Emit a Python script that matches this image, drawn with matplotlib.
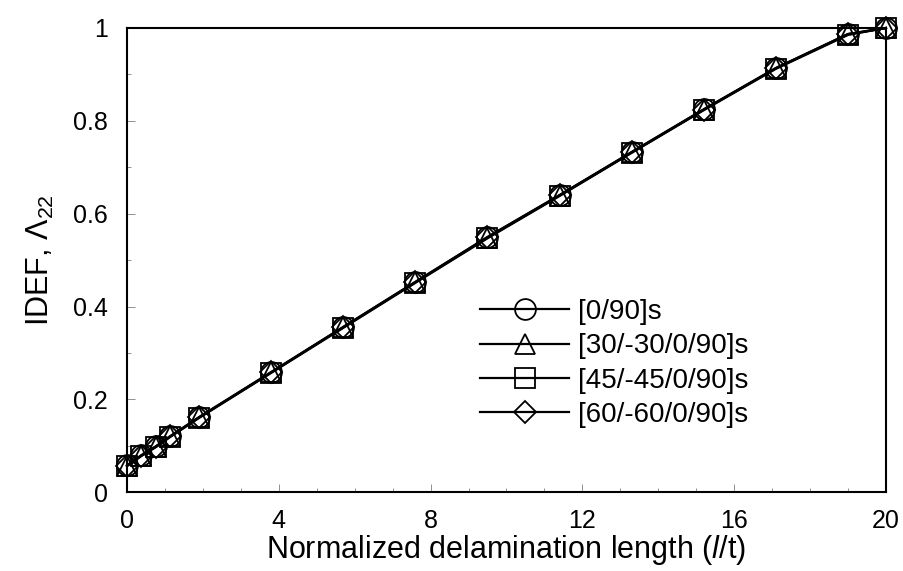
import matplotlib.pyplot as plt
from matplotlib.ticker import MultipleLocator

plt.rcParams['font.family'] = ['Liberation Sans', 'DejaVu Sans']
plt.rcParams['mathtext.fontset'] = 'custom'
plt.rcParams['mathtext.rm'] = 'Liberation Sans'
plt.rcParams['mathtext.it'] = 'Liberation Sans:italic'

# normalized delamination length l/t
x = [0, 0.38, 0.76, 1.14, 1.9, 3.8, 5.7, 7.6, 9.5, 11.4, 13.3, 15.2, 17.1, 19, 20]

idef_0_90 = [0.058, 0.080, 0.099, 0.121, 0.162, 0.259, 0.356, 0.453, 0.550, 0.640, 0.733, 0.825, 0.914, 0.987, 1.0]
idef_30 = [0.057, 0.079, 0.098, 0.120, 0.161, 0.258, 0.355, 0.452, 0.548, 0.639, 0.732, 0.824, 0.913, 0.986, 1.0]
idef_45 = [0.056, 0.078, 0.097, 0.119, 0.160, 0.257, 0.354, 0.451, 0.547, 0.638, 0.731, 0.823, 0.912, 0.985, 1.0]
idef_60 = [0.057, 0.079, 0.098, 0.120, 0.161, 0.258, 0.356, 0.453, 0.549, 0.640, 0.732, 0.824, 0.913, 0.987, 1.0]

labels = ['[0/90]s', '[30/-30/0/90]s', '[45/-45/0/90]s', '[60/-60/0/90]s']
markers = ['o', '^', 's', 'D']
series = [idef_0_90, idef_30, idef_45, idef_60]

xticks = [0, 4, 8, 12, 16, 20]
yticks = [0, 0.2, 0.4, 0.6, 0.8, 1]
ytick_labels = ['0', '0.2', '0.4', '0.6', '0.8', '1']

fig = plt.figure(figsize=(9.04, 5.71), dpi=100)
ax = fig.add_axes([0.1405, 0.138, 0.8395, 0.813])

for y, lab, m in zip(series, labels, markers):
    ms = 11 if m == 'D' else 15
    ax.plot(x, y, color='black', lw=1.6, marker=m, markersize=ms,
            markerfacecolor='none', markeredgecolor='black',
            markeredgewidth=1.3, label=lab, clip_on=False)

ax.set_xlim(0, 20)
ax.set_ylim(0, 1)
ax.set_xticks(xticks)
ax.set_xticklabels([str(v) for v in xticks])
ax.xaxis.set_minor_locator(MultipleLocator(1))
ax.set_yticks(yticks)
ax.set_yticklabels(ytick_labels)
ax.yaxis.set_minor_locator(MultipleLocator(0.1))
ax.tick_params(which='both', direction='in', labelsize=18, width=0.6, color='0.5')
ax.tick_params(which='major', length=6)
ax.tick_params(axis='x', which='major', pad=12)
ax.tick_params(axis='y', which='major', pad=14)
ax.tick_params(which='minor', length=3)
for s in ax.spines.values():
    s.set_linewidth(1.5)

ax.set_xlabel('Normalized delamination length ($\\mathit{l}$/t)', fontsize=22, labelpad=0)
ax.set_ylabel('IDEF, $\\Lambda_{22}$', fontsize=22, labelpad=12)

ax.legend(loc='upper left', bbox_to_anchor=(0.44, 0.458), frameon=False,
          fontsize=20, handlelength=3.2, handletextpad=0.32, labelspacing=0.3,
          borderpad=0.2)

fig.savefig('out.png', dpi=100)
